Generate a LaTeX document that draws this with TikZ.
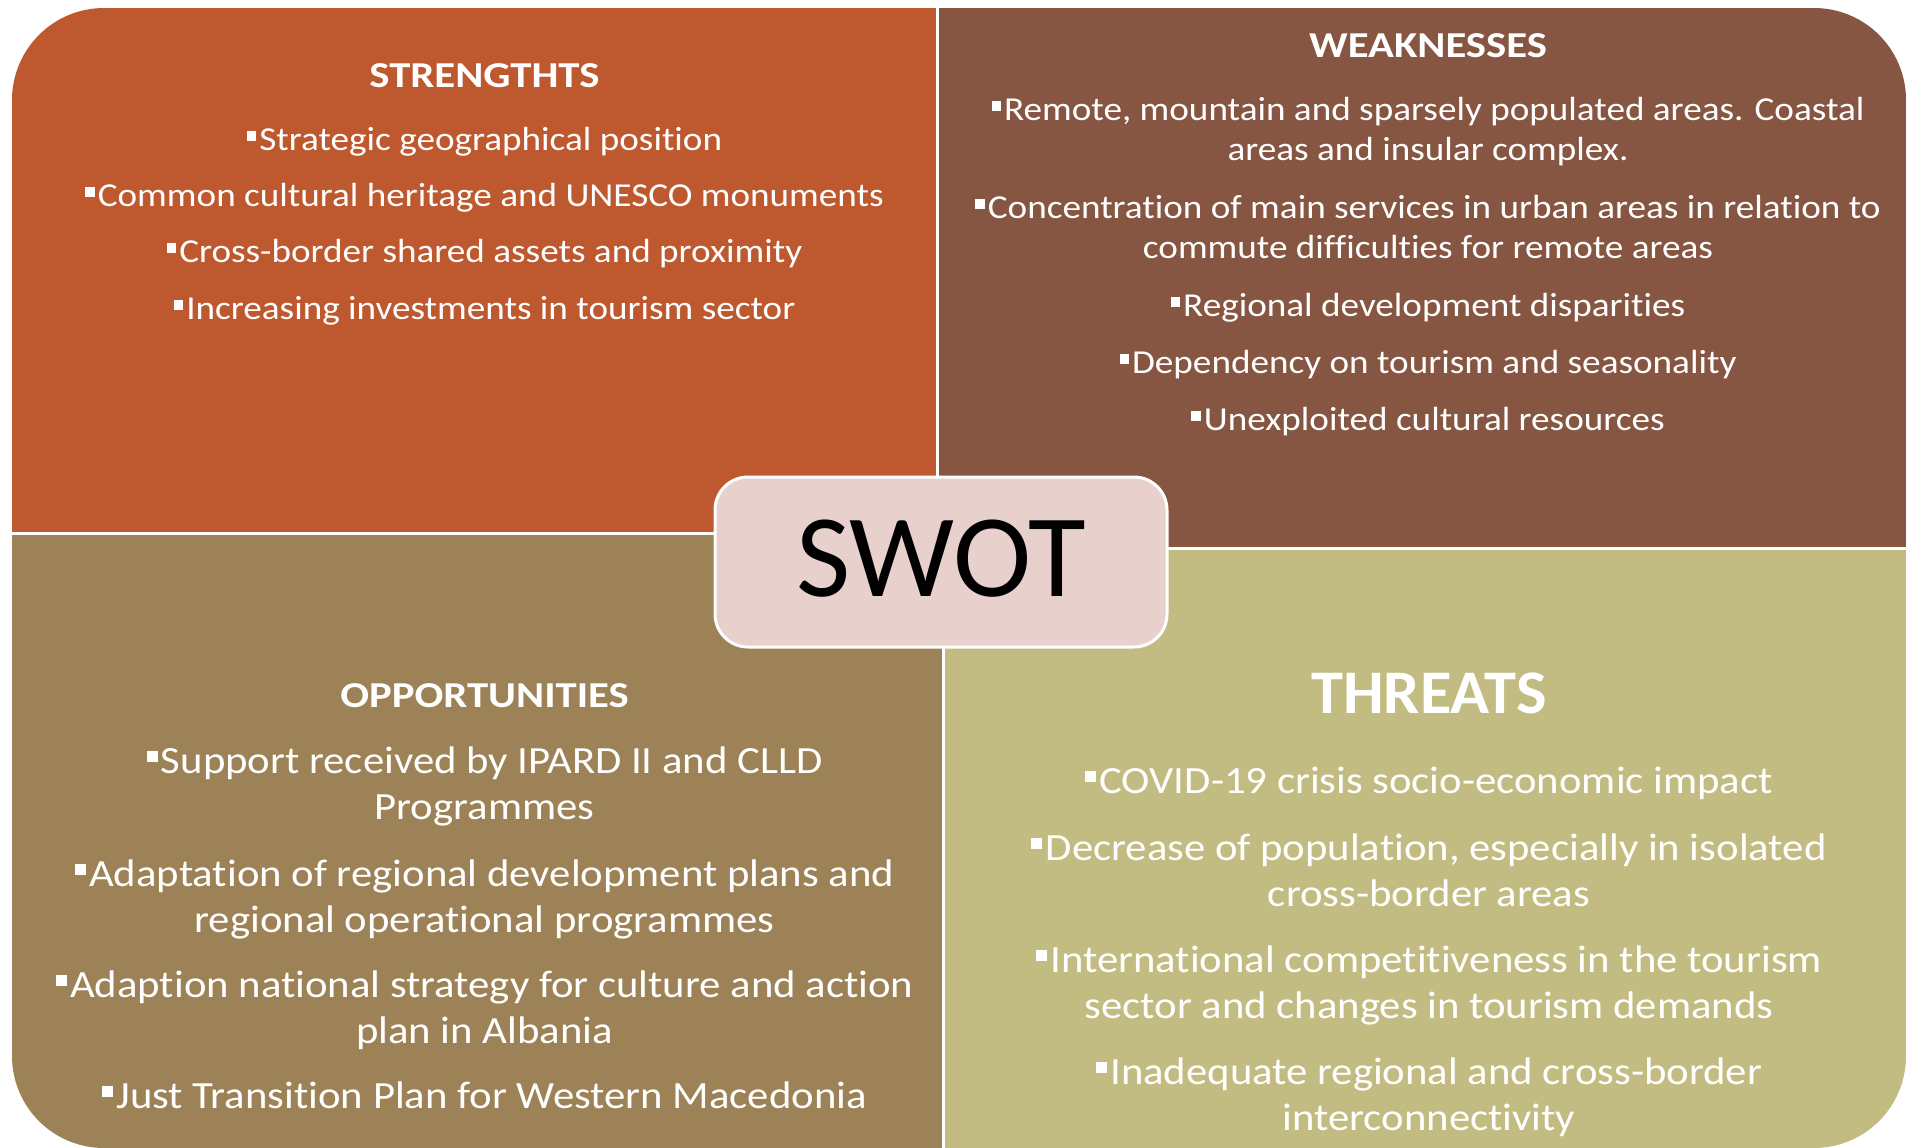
\documentclass[tikz,border=0pt]{standalone}
\usepackage{fontspec}
\setmainfont{Carlito}[Ligatures=NoCommon]
\newfontfamily\bodyfam{Carlito}[Ligatures=NoCommon,FakeStretch=1.11]
\newfontfamily\headfam{Carlito}[Ligatures=NoCommon,FakeStretch=1.17]
\newfontfamily\bigheadfam{Carlito}[Ligatures=NoCommon,FakeStretch=1.04]
\definecolor{strC}{HTML}{BE582E}
\definecolor{weakC}{HTML}{865642}
\definecolor{oppC}{HTML}{9C8256}
\definecolor{thrC}{HTML}{C3BC82}
\definecolor{swotC}{HTML}{E8D0CC}
% small square bullet in front of each item
\newcommand\sq{\raisebox{0.28em}{\rule{0.285em}{0.285em}}\hspace{0.09em}}
\newcommand\topfont{\bodyfam\fontsize{33.5}{40}\selectfont}
\newcommand\botfont{\bodyfam\fontsize{38.5}{46}\selectfont}
\newcommand\headfont{\headfam\fontsize{36.5}{44}\selectfont\bfseries}
\newcommand\bigheadfont{\bigheadfam\fontsize{62}{70}\selectfont\bfseries}
\begin{document}
\begin{tikzpicture}[x=1pt,y=-1pt,
  txt/.style={anchor=base,inner sep=0pt,text=white},
  toptxt/.style={txt,font=\topfont},
  bottxt/.style={txt,font=\botfont},
  headtxt/.style={txt,font=\headfont}]
\useasboundingbox (0,0) rectangle (1906,1148);
% four quadrants inside one rounded outline
\begin{scope}
  \clip[rounded corners=92pt] (12,8) rectangle (1906,1148);
  \fill[strC]  (12,8)    rectangle (936,532);
  \fill[weakC] (939,8)   rectangle (1906,547);
  \fill[oppC]  (12,535)  rectangle (942,1148);
  \fill[thrC]  (945,550) rectangle (1906,1148);
\end{scope}
% centre box
\node[draw=white,line width=3pt,fill=swotC,rounded corners=33pt,
      minimum width=452pt,minimum height=170pt,inner sep=0pt] (swot) at (941,562) {};
\node[anchor=base,inner sep=0pt,font=\fontsize{118}{118}\selectfont] (swotlabel) at (941,596) {SWOT};
% strengths
\node[headtxt] (sH) at (484.5,88) {STRENGTHTS};
\node[toptxt] (s1) at (484.5,150) {\sq Strategic geographical position};
\node[toptxt] (s2) at (484.5,206) {\sq Common cultural heritage and UNESCO monuments};
\node[toptxt] (s3) at (484.5,262) {\sq Cross-border shared assets and proximity};
\node[toptxt] (s4) at (484.5,319) {\sq Increasing investments in tourism sector};
% weaknesses
\node[headtxt] (wH) at (1428,58) {WEAKNESSES};
\node[toptxt] (w1a) at (1428,120) {\sq Remote, mountain and sparsely populated areas. Coastal};
\node[toptxt] (w1b) at (1428,160) {areas and insular complex.};
\node[toptxt] (w2a) at (1428,218) {\sq Concentration of main services in urban areas in relation to};
\node[toptxt] (w2b) at (1428,258) {commute difficulties for remote areas};
\node[toptxt] (w3) at (1428,316) {\sq Regional development disparities};
\node[toptxt] (w4) at (1428,373) {\sq Dependency on tourism and seasonality};
\node[toptxt] (w5) at (1428,430) {\sq Unexploited cultural resources};
% opportunities
\node[headtxt] (oH) at (484.5,707) {OPPORTUNITIES};
\node[bottxt] (o1a) at (484.5,773) {\sq Support received by IPARD II and CLLD};
\node[bottxt] (o1b) at (484.5,819) {Programmes};
\node[bottxt] (o2a) at (484.5,886) {\sq Adaptation of regional development plans and};
\node[bottxt] (o2b) at (484.5,932) {regional operational programmes};
\node[bottxt] (o3a) at (484.5,997) {\sq Adaption national strategy for culture and action};
\node[bottxt] (o3b) at (484.5,1043) {plan in Albania};
\node[bottxt] (o4) at (484.5,1108) {\sq Just Transition Plan for Western Macedonia};
% threats
\node[txt,font=\bigheadfont] (tH) at (1429,713) {THREATS};
\node[bottxt] (t1) at (1429,793) {\sq COVID-19 crisis socio-economic impact};
\node[bottxt] (t2a) at (1429,860) {\sq Decrease of population, especially in isolated};
\node[bottxt] (t2b) at (1429,906) {cross-border areas};
\node[bottxt] (t3a) at (1429,972) {\sq International competitiveness in the tourism};
\node[bottxt] (t3b) at (1429,1018) {sector and changes in tourism demands};
\node[bottxt] (t4a) at (1429,1084) {\sq Inadequate regional and cross-border};
\node[bottxt] (t4b) at (1429,1130) {interconnectivity};
\end{tikzpicture}
\end{document}
